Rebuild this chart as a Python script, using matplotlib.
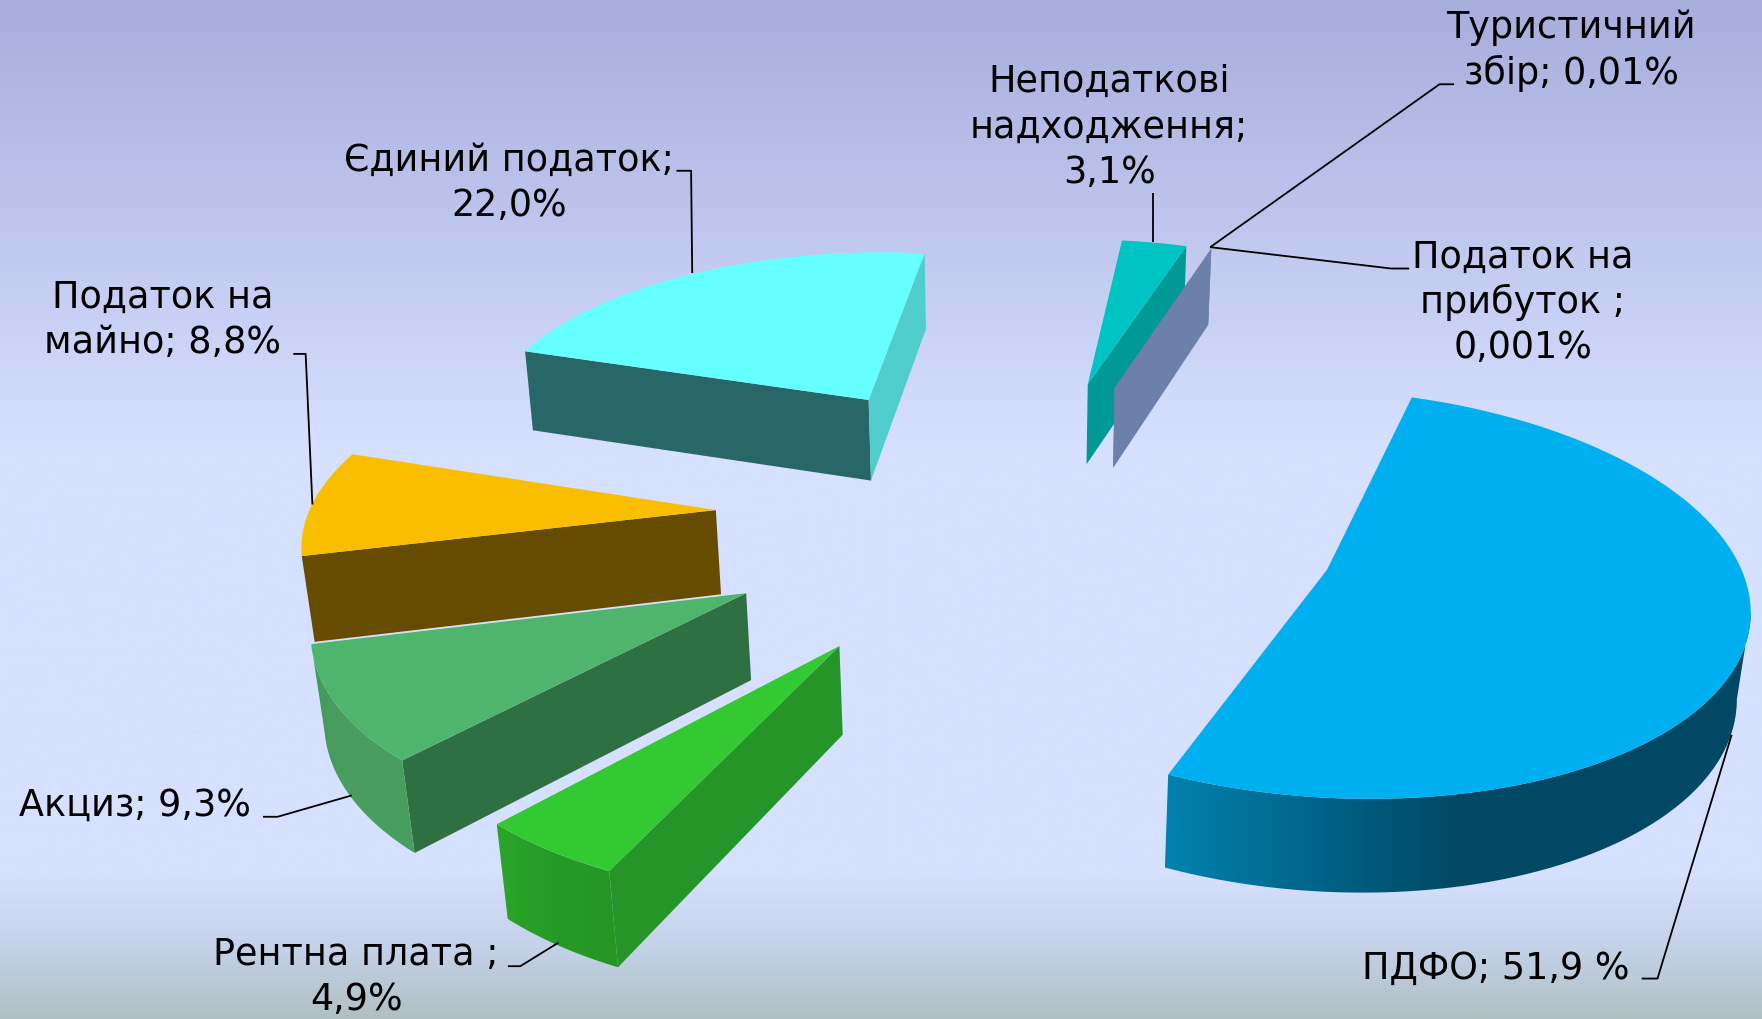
import numpy as np
import matplotlib
matplotlib.use("Agg")
import matplotlib.pyplot as plt
from matplotlib.colors import LinearSegmentedColormap
from matplotlib.patches import Polygon

# values, in pie order starting from the top and going clockwise
names = ["ПДФО", "Рентна плата", "Акциз", "Податок на майно", "Єдиний податок",
         "Неподаткові надходження", "Туристичний збір", "Податок на прибуток"]
values = [51.9, 4.9, 9.3, 8.8, 22.0, 3.1, 0.01, 0.001]
labels = ["ПДФО; 51,9 %", "Рентна плата ;\n4,9%", "Акциз; 9,3%", "Податок на\nмайно; 8,8%",
          "Єдиний податок;\n22,0%", "Неподаткові\nнадходження;\n3,1%",
          "Туристичний\nзбір; 0,01%", "Податок на\nприбуток ;\n0,001%"]

top_colors = ["#00afef", "#33c933", "#50b56c", "#fabe00", "#66ffff", "#00c4c4", "#6c80aa", "#6c80aa"]
start_face = ["none", "#25952a", "#2f7042", "#664c00", "#296667", "none", "none", "none"]
end_face = ["none", "none", "none", "none", "#50cdcd", "#009996", "#6c80aa", "#6c80aa"]
wall_colors = [["#0082af", "#004864", "#004864"], ["#2aa52a", "#269a26", "#259525"],
               ["#449a5c", "#4a9e60", "#489e5e"], ["#664c00"] * 3, None, None, None, None]

# where each exploded slice has its tip on the picture
tips = [(1181, 507), (747, 575), (664, 528), (637, 454), (773, 356), (968, 342), (992, 345), (992, 345)]
radii = [367, 369, 373, 373, 372, 369, 369, 369]
draw_order = [4, 5, 6, 7, 0, 3, 2, 1]

start_angle = -71.7
depth = 0.1187
horizon = -1000.0
eye_x = 900.0

label_pos = [(1331, 862), (317, 870), (120, 717), (145, 285), (453, 163), (987, 113), (1398, 45), (1355, 269)]
leaders = [[(1461, 871), (1475, 871), (1541, 654)],
           [(452, 860), (463, 860), (497, 839)],
           [(234, 727), (247, 727), (313, 708)],
           [(261, 315), (272, 315), (278, 449)],
           [(602, 152), (615, 152), (616, 243)],
           [(1026, 172), (1026, 215)],
           [(1294, 75), (1281, 75), (1077, 220)],
           [(1254, 239), (1238, 239), (1077, 220)]]


def ground_point(tip, t, radius):
    # ground plane -> picture, with the horizon far above the chart
    w = 1500.0 / (tip[1] - horizon)
    g = w - depth * np.sin(t)
    xg = (tip[0] - eye_x) * w + radius * np.cos(t)
    return eye_x + xg / g, horizon + 1500.0 / g


def drop(x, y):
    # bottom edge of the pie, the verticals lean towards a point below the chart
    h = 60 + 0.033 * y
    return x + (eye_x - x) / (4700 - y) * h, y + h


fig = plt.figure(figsize=(17.62, 10.19), dpi=100)
ax = fig.add_axes([0, 0, 1, 1])

bg = LinearSegmentedColormap.from_list("bg", [(0, "#a8aedc"), (0.2, "#bcc4ec"), (0.44, "#d6e0ff"),
                                              (0.86, "#d6e0ff"), (0.93, "#c4d2e8"), (1, "#b0c0c2")])
ax.imshow(np.linspace(0, 1, 512).reshape(-1, 1), cmap=bg, extent=(0, 1568, 907, 0), aspect="auto", zorder=0)

fractions = np.array(values) / sum(values) * 2 * np.pi
ends = np.radians(start_angle) + np.cumsum(fractions)
starts = ends - fractions

for n, i in enumerate(draw_order):
    tip = tips[i]
    z = 2 + n * 0.1
    t = np.linspace(starts[i], ends[i], 160)
    x, y = ground_point(tip, t, radii[i])
    bx, by = drop(x, y)
    tx, ty = drop(*tip)

    if start_face[i] != "none":
        ax.add_patch(Polygon([tip, (x[0], y[0]), (bx[0], by[0]), (tx, ty)], fc=start_face[i], ec="none", zorder=z))
    if end_face[i] != "none":
        ax.add_patch(Polygon([tip, (x[-1], y[-1]), (bx[-1], by[-1]), (tx, ty)], fc=end_face[i], ec="none", zorder=z))

    if wall_colors[i] is not None:
        # outer wall starts at the rightmost point of the arc
        front = t >= t[np.argmax(x)]
        poly = np.vstack([np.column_stack([x[front], y[front]]),
                          np.column_stack([bx[front], by[front]])[::-1]])
        wall = Polygon(poly, fc="none", ec="none", transform=ax.transData)
        ax.add_patch(wall)
        cmap = LinearSegmentedColormap.from_list("w%d" % i, wall_colors[i])
        im = ax.imshow(np.linspace(1, 0, 256).reshape(1, -1), cmap=cmap, aspect="auto", zorder=z + 0.01,
                       extent=(poly[:, 0].max(), poly[:, 0].min(), poly[:, 1].max(), poly[:, 1].min()))
        im.set_clip_path(wall)

    top = [tip] + list(zip(x, y))
    ax.add_patch(Polygon(top, fc=top_colors[i], ec="none", zorder=z + 0.05))

for pts, lab, pos in zip(leaders, labels, label_pos):
    ax.plot(*zip(*pts), color="black", lw=1.3, zorder=5, solid_capstyle="butt")
    ax.text(pos[0], pos[1], lab, ha="center", va="center", fontsize=26.3, color="black",
            family="DejaVu Sans", linespacing=1.28, zorder=6)

ax.set_xlim(0, 1568)
ax.set_ylim(907, 0)
ax.axis("off")
fig.savefig("out.png", dpi=100)
